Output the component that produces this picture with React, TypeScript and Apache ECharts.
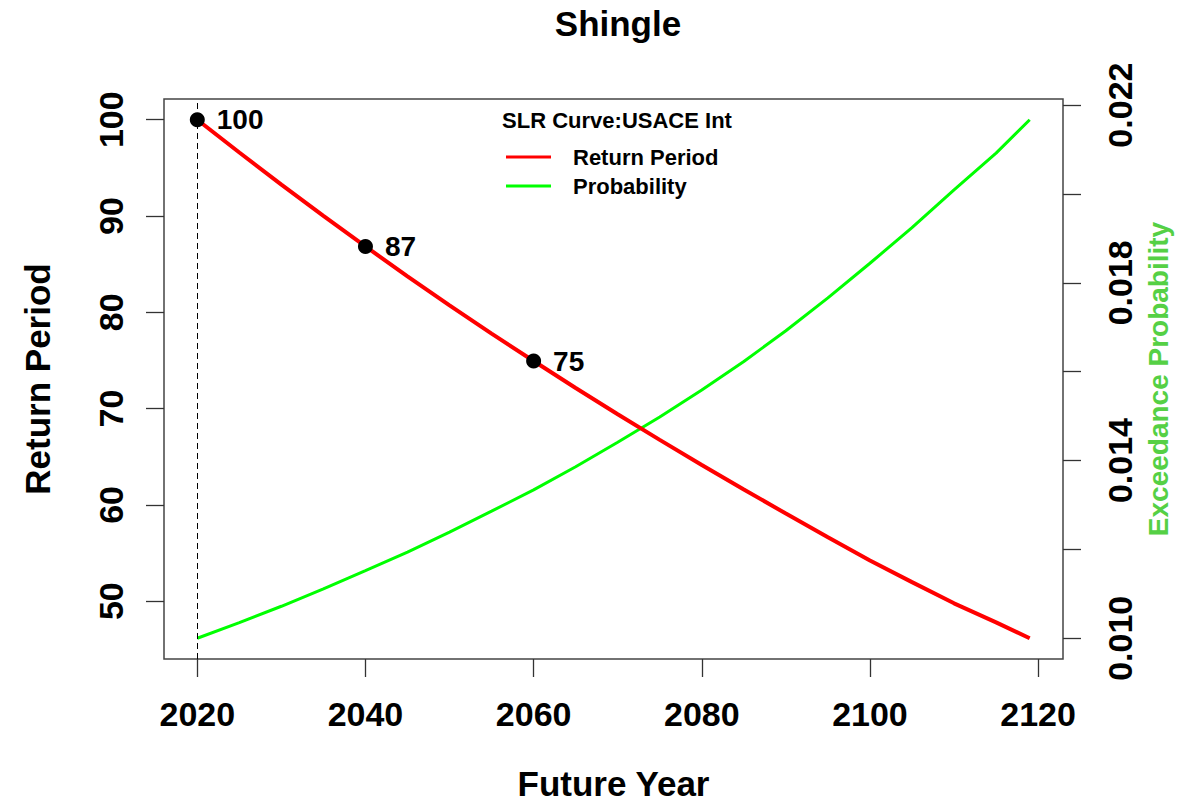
import React, { useEffect, useRef } from "react";
import * as echarts from "echarts";

const years = [2020, 2025, 2030, 2035, 2040, 2045, 2050, 2055, 2060, 2065, 2070, 2075, 2080, 2085, 2090, 2095, 2100, 2105, 2110, 2115, 2119];
const returnPeriod = [100, 96.6, 93.27, 90.02, 86.84, 83.74, 80.72, 77.79, 74.94, 72.14, 69.41, 66.75, 64.15, 61.6, 59.1, 56.64, 54.23, 51.98, 49.78, 47.8, 46.15];
const probability = [0.01, 0.01035, 0.01072, 0.01111, 0.01152, 0.01194, 0.01239, 0.01286, 0.01334, 0.01386, 0.01441, 0.01498, 0.01559, 0.01623, 0.01692, 0.01766, 0.01844, 0.01924, 0.02009, 0.02092, 0.02167];
const markerYears = [2020, 2040, 2060];
const xTicks = [2020, 2040, 2060, 2080, 2100, 2120];
const leftTicks = [50, 60, 70, 80, 90, 100];
const rightTicks = [0.010, 0.012, 0.014, 0.016, 0.018, 0.020, 0.022];
const rightLabels = [0.010, 0.014, 0.018, 0.022];

const FONT = "'Liberation Sans', Arial, sans-serif";

export default function App() {
  const ref = useRef<HTMLDivElement>(null);
  useEffect(() => {
    if (!ref.current) return;
    const chart = echarts.init(ref.current, null, { renderer: "svg" });
    const rpData = years.map((y, i) => [y, returnPeriod[i]]);
    const prData = years.map((y, i) => [y, probability[i]]);
    const markerData = markerYears.map((y) => [y, returnPeriod[years.indexOf(y)]]);

    // R-style 4% axis expansion
    const xMinD = years[0], xMaxD = years[years.length - 1];
    const xPad = (xMaxD - xMinD) * 0.04;
    const lMin = Math.min(...returnPeriod), lMax = Math.max(...returnPeriod);
    const lPad = (lMax - lMin) * 0.04;
    const rMin = Math.min(...probability), rMax = Math.max(...probability);
    const rPad = (rMax - rMin) * 0.04;

    const tickLine = { color: "#333", width: 1.3 };

    chart.setOption({
      animation: false,
      backgroundColor: "#fff",
      textStyle: { fontFamily: FONT },
      title: [
        {
          text: "Shingle",
          left: 613,
          top: 1,
          textAlign: "center",
          textStyle: { fontFamily: FONT, fontSize: 35, fontWeight: "bold", color: "#000" },
        },
        {
          text: "SLR Curve:USACE Int",
          left: 612,
          top: 104,
          textAlign: "center",
          textStyle: { fontFamily: FONT, fontSize: 22, fontWeight: "bold", color: "#000" },
        },
      ],
      legend: {
        orient: "vertical",
        left: 501,
        top: 141,
        itemWidth: 45,
        itemHeight: 3,
        itemGap: 7,
        icon: "rect",
        data: ["Return Period", "Probability"],
        textStyle: { fontFamily: FONT, fontSize: 22, fontWeight: "bold", color: "#000", padding: [0, 0, 0, 17] },
      },
      grid: {
        left: 164,
        top: 99,
        right: 129,
        bottom: 142,
        outerBoundsMode: "none",
        containLabel: false,
        show: true,
        borderColor: "#444",
        borderWidth: 1.5,
        backgroundColor: "transparent",
      },
      xAxis: {
        type: "value",
        min: xMinD - xPad,
        max: xMaxD + xPad,
        name: "Future Year",
        nameLocation: "middle",
        nameGap: 107,
        nameTextStyle: { fontFamily: FONT, fontSize: 35, lineHeight: 34, fontWeight: "bold", color: "#000" },
        axisLine: { show: false },
        splitLine: { show: false },
        axisTick: { show: true, length: 18, customValues: xTicks, lineStyle: tickLine },
        axisLabel: {
          customValues: xTicks,
          margin: 38,
          fontFamily: FONT,
          fontSize: 34,
          fontWeight: "bold",
          color: "#000",
          formatter: (v: number) => String(Math.round(v)),
        },
      },
      yAxis: [
        {
          type: "value",
          position: "left",
          min: lMin - lPad,
          max: lMax + lPad,
          name: "Return Period",
          nameLocation: "middle",
          nameRotate: 90,
          nameGap: 109,
          nameTextStyle: { fontFamily: FONT, fontSize: 35, fontWeight: "bold", color: "#000" },
          axisLine: { show: false },
          splitLine: { show: false },
          axisTick: { show: true, length: 18, customValues: leftTicks, lineStyle: tickLine },
          axisLabel: {
            customValues: leftTicks,
            rotate: 90,
            margin: 36,
            fontFamily: FONT,
            fontSize: 34,
            fontWeight: "bold",
            color: "#000",
          },
        },
        {
          type: "value",
          position: "right",
          min: rMin - rPad,
          max: rMax + rPad,
          name: "Exceedance Probability",
          nameLocation: "middle",
          nameRotate: 90,
          nameGap: 76,
          nameTextStyle: { fontFamily: FONT, fontSize: 28, fontWeight: "bold", color: "#55d045" },
          axisLine: { show: false },
          splitLine: { show: false },
          axisTick: { show: true, length: 18, customValues: rightTicks, lineStyle: tickLine },
          axisLabel: {
            customValues: rightLabels,
            rotate: 90,
            margin: 40,
            fontFamily: FONT,
            fontSize: 34,
            fontWeight: "bold",
            color: "#000",
            formatter: (v: number) => v.toFixed(3),
          },
        },
      ],
      series: [
        {
          name: "Return Period",
          type: "line",
          yAxisIndex: 0,
          data: rpData,
          showSymbol: false,
          smooth: false,
          color: "#ff0000",
          lineStyle: { color: "#ff0000", width: 4 },
          z: 3,
          markLine: {
            silent: true,
            symbol: "none",
            label: { show: false },
            lineStyle: { color: "#000", type: [6, 4], width: 1 },
            data: [{ xAxis: 2020 }],
          },
        },
        {
          name: "Probability",
          type: "line",
          yAxisIndex: 1,
          data: prData,
          showSymbol: false,
          smooth: false,
          color: "#00ff00",
          lineStyle: { color: "#00ff00", width: 3 },
          z: 2,
        },
        {
          name: "points",
          type: "scatter",
          yAxisIndex: 0,
          data: markerData,
          symbolSize: 15,
          itemStyle: { color: "#000", opacity: 1 },
          z: 5,
          label: {
            show: true,
            position: "right",
            distance: 12,
            fontFamily: FONT,
            fontSize: 28,
            fontWeight: "bold",
            color: "#000",
            opacity: 1,
            formatter: (p: any) => String(Math.round(p.value[1])),
          },
        },
      ],
    });
    return () => chart.dispose();
  }, []);
  return (
    <div
      ref={ref}
      style={{ position: "fixed", left: 0, top: 0, width: 1192, height: 801, background: "#fff" }}
    />
  );
}
